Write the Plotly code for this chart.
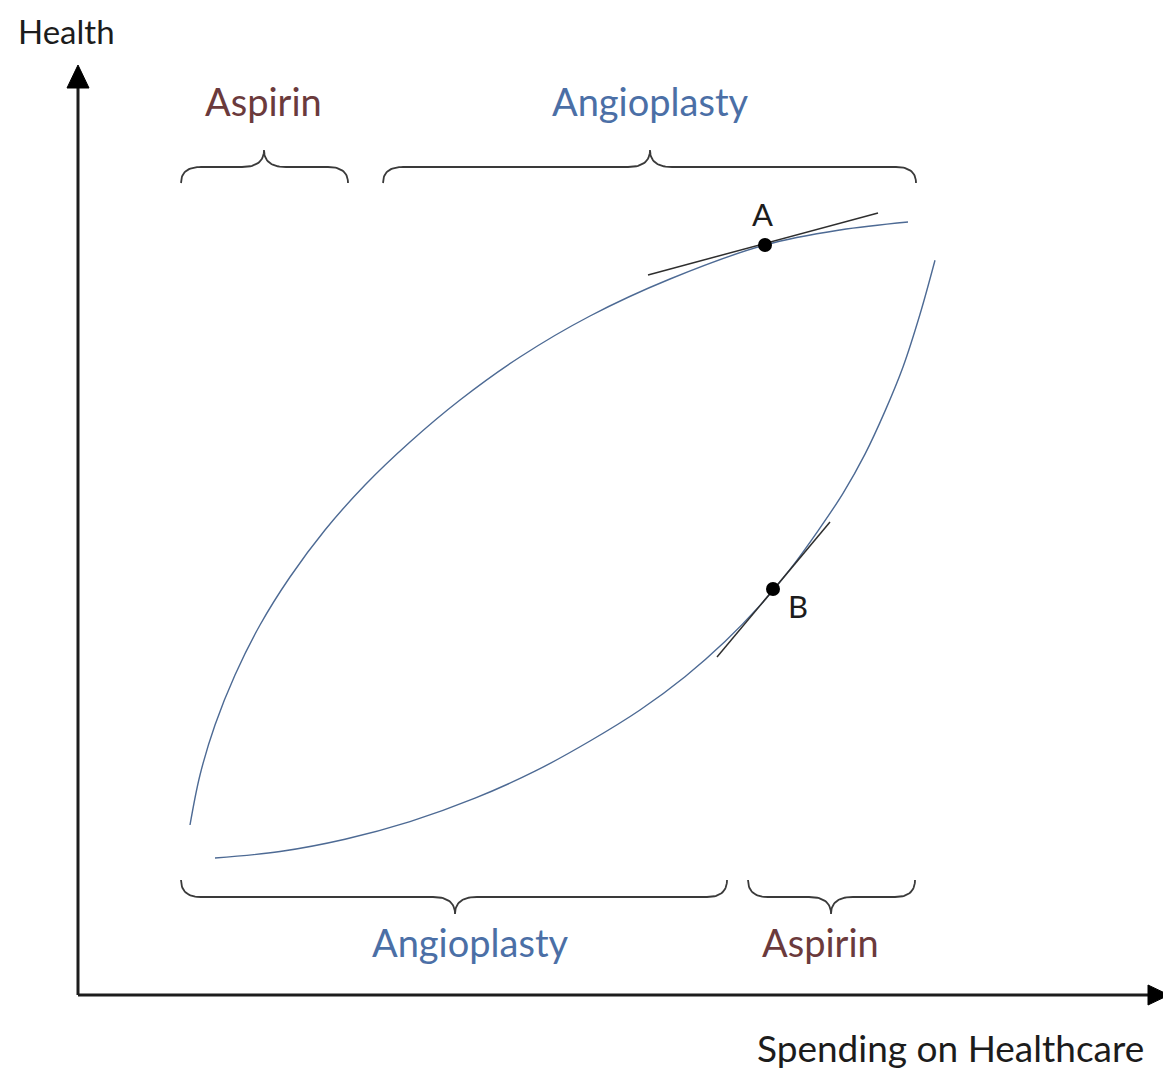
import numpy as np
import plotly.graph_objects as go

# ---------------- data (spending, health) ----------------
# upper (concave) curve
upper_spending = [112, 122, 137, 157, 182, 212, 247, 287, 332, 382, 442, 512, 592, 687, 762, 830]
upper_health   = [170, 220, 270, 320, 370, 418, 465, 510, 553, 595, 638, 679, 716, 750, 765, 773]
# lower (convex) curve
lower_spending = [137, 202, 267, 332, 397, 457, 512, 562, 607, 647, 682, 712, 740, 765, 787, 807, 825, 842, 857]
lower_health   = [137, 143.5, 155.8, 173.4, 196.8, 223.8, 254, 285, 318.3, 353.5, 389.6, 425.6,
                  464.2, 501.7, 540.9, 583.9, 628, 680.7, 734.7]

point_names    = ["A", "B"]
point_spending = [687, 695]
point_health   = [750, 406]

# tangent segments at A and B (start / end)
tangent_spending = [[570, 800], [639, 752]]
tangent_health   = [[720, 782], [338, 473]]

# braces: (start, end, tip) along spending axis
top_brace_labels = ["Aspirin", "Angioplasty"]
top_brace_start  = [103, 305]
top_brace_end    = [270, 838]
top_brace_tip    = [186, 572]

bottom_brace_labels = ["Angioplasty", "Aspirin"]
bottom_brace_start  = [103, 670]
bottom_brace_end    = [649, 837]
bottom_brace_tip    = [377, 753]

# ---------------- styling ----------------
CURVE = "#4d6a94"
DARK = "#1c1c1c"
BRACE = "#3a3a3a"
ASP = "#6b3a3c"
ANG = "#4b6fa6"
FONT = "Lato"

X0, Y0 = 78, 995   # page pixel of the origin
OFF = 8            # page body margin

fig = go.Figure()

fig.add_trace(go.Scatter(x=upper_spending, y=upper_health, mode="lines",
                         line=dict(color=CURVE, width=1.4, shape="spline", smoothing=1.0),
                         hoverinfo="skip", showlegend=False))
fig.add_trace(go.Scatter(x=lower_spending, y=lower_health, mode="lines",
                         line=dict(color=CURVE, width=1.4, shape="spline", smoothing=1.0),
                         hoverinfo="skip", showlegend=False))

for tx, ty in zip(tangent_spending, tangent_health):
    fig.add_trace(go.Scatter(x=tx, y=ty, mode="lines",
                             line=dict(color="#2e2e2e", width=1.5),
                             hoverinfo="skip", showlegend=False))

fig.add_trace(go.Scatter(x=point_spending, y=point_health, mode="markers",
                         marker=dict(color="black", size=14),
                         hoverinfo="skip", showlegend=False))


def bez(p0, p1, p2, n=20):
    t = np.linspace(0, 1, n)[:, None]
    p0, p1, p2 = map(np.array, (p0, p1, p2))
    return (1 - t) ** 2 * p0 + 2 * (1 - t) * t * p1 + t ** 2 * p2


def brace(x0, x1, xt, y_end, y_flat, y_tip, r=20, rt=22):
    segs = [
        bez((x0, y_end), (x0, y_flat), (x0 + r, y_flat)),
        np.array([(x0 + r, y_flat), (xt - rt, y_flat)]),
        bez((xt - rt, y_flat), (xt, y_flat), (xt, y_tip)),
        bez((xt, y_tip), (xt, y_flat), (xt + rt, y_flat)),
        np.array([(xt + rt, y_flat), (x1 - r, y_flat)]),
        bez((x1 - r, y_flat), (x1, y_flat), (x1, y_end)),
    ]
    pts = np.vstack(segs)
    return pts[:, 0], pts[:, 1]


for a, b, t in zip(top_brace_start, top_brace_end, top_brace_tip):
    bx, by = brace(a, b, t, Y0 - 183, Y0 - 167, Y0 - 150)
    fig.add_trace(go.Scatter(x=bx, y=by, mode="lines", line=dict(color=BRACE, width=1.8),
                             hoverinfo="skip", showlegend=False))
for a, b, t in zip(bottom_brace_start, bottom_brace_end, bottom_brace_tip):
    bx, by = brace(a, b, t, Y0 - 880, Y0 - 897, Y0 - 914)
    fig.add_trace(go.Scatter(x=bx, y=by, mode="lines", line=dict(color=BRACE, width=1.8),
                             hoverinfo="skip", showlegend=False))

shapes = [
    dict(type="line", xref="x", yref="y", x0=0, y0=0, x1=0, y1=Y0 - 86,
         line=dict(color=DARK, width=3)),
    dict(type="line", xref="x", yref="y", x0=0, y0=0, x1=1150 - X0, y1=0,
         line=dict(color=DARK, width=3)),
    dict(type="path", xref="x", yref="y",
         path=f"M -11,{Y0-88} L 11,{Y0-88} L 0,{Y0-65} Z",
         fillcolor="black", line=dict(color="black", width=1)),
    dict(type="path", xref="x", yref="y",
         path=f"M {1148-X0},10 L {1148-X0},-10 L {1169-X0},0 Z",
         fillcolor="black", line=dict(color="black", width=1)),
]

annotations = []
def label(text, xpix, ypix, color, size):
    annotations.append(dict(text=text, x=xpix - X0, y=Y0 - ypix, xref="x", yref="y",
                            showarrow=False, xanchor="center", yanchor="middle",
                            font=dict(family=FONT, size=size, color=color)))

label(top_brace_labels[0], 263, 101, ASP, 38)
label(top_brace_labels[1], 650, 101, ANG, 38)
label(bottom_brace_labels[0], 470, 942, ANG, 38)
label(bottom_brace_labels[1], 820, 942, ASP, 38)
label(point_names[0], 762, 214, DARK, 31)
label(point_names[1], 798, 606, DARK, 31)
label("Health", 66, 31, DARK, 33)
label("Spending on Healthcare", 950, 1047, DARK, 37)

W, H = 1171 - OFF, 1076 - OFF
fig.update_layout(
    width=W, height=H, autosize=False,
    margin=dict(l=0, r=0, t=0, b=0),
    paper_bgcolor="white", plot_bgcolor="white",
    xaxis=dict(range=[OFF - X0, 1171 - X0], visible=False, fixedrange=True),
    yaxis=dict(range=[Y0 - 1076, Y0 - OFF], visible=False, fixedrange=True),
    shapes=shapes, annotations=annotations, showlegend=False,
)

fig.write_html("out.html")
